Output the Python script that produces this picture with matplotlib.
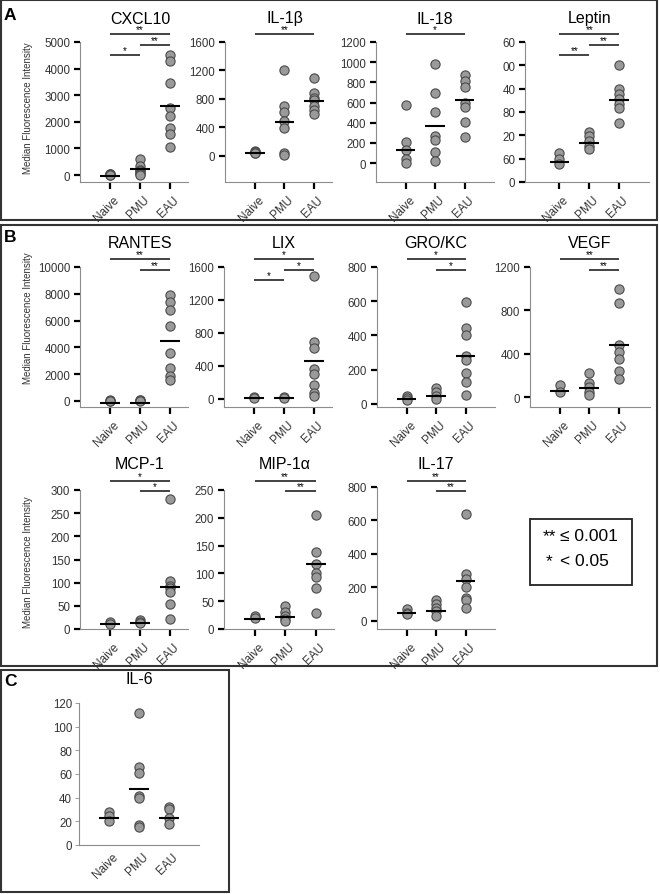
import matplotlib.pyplot as plt
from matplotlib.patches import Rectangle
from matplotlib.transforms import blended_transform_factory, ScaledTranslation

plt.rcParams['font.family'] = ['Liberation Sans', 'DejaVu Sans']

groups = ['Naive', 'PMU', 'EAU']

# values (median fluorescence intensity), per group: Naive, PMU, EAU
cxcl10 = [[50, 30, 20, 10, 0],
          [620, 350, 200, 150, 80, 30, 10],
          [4530, 4280, 3460, 2530, 2220, 1780, 1530, 1050]]
cxcl10_med = [-30, 210, 2600]

il1b = [[75, 60, 50, 45, 40],
        [1209, 698, 614, 498, 391, 47, 9],
        [1088, 879, 820, 791, 707, 650, 591]]
il1b_med = [47, 484, 777]

il18 = [[575, 207, 125, 43, 3],
        [980, 691, 510, 273, 224, 108, 16],
        [872, 816, 750, 595, 553, 405, 263]]
il18_med = [132, 368, 628]

leptin = [[319, 253, 204],
          [557, 513, 457, 401, 371],
          [1304, 1033, 977, 921, 866, 829, 654]]
leptin_med = [227, 431, 910]
leptin_ticks = [0, 260, 520, 780, 1040, 1300, 1560]
leptin_ticklabels = ['0', '60', '20', '80', '40', '00', '60']

rantes = [[50, 30, 10],
          [100, 40, 10],
          [7920, 7400, 6780, 5590, 3560, 2475, 1880, 1530]]
rantes_med = [-124, -124, 4500]

lix = [[20, 10],
       [20, 10],
       [1490, 694, 612, 359, 298, 171, 69, 41]]
lix_med = [8, 8, 461]

grokc = [[45, 35, 25],
         [91, 68, 49, 29],
         [596, 441, 402, 282, 256, 179, 126, 52]]
grokc_med = [31, 49, 282]

vegf = [[108, 46],
        [225, 129, 92, 46, 15],
        [1000, 871, 477, 415, 354, 237, 169]]
vegf_med = [55, 86, 477]

mcp1 = [[16, 11],
        [20, 16, 13],
        [281, 104, 93, 88, 79, 54, 22]]
mcp1_med = [11.5, 13, 90]

mip1a = [[23, 19],
         [42, 30, 24, 18, 15],
         [205, 138, 117, 100, 94, 73, 28]]
mip1a_med = [18, 21, 117]

il17 = [[70, 50, 40],
        [126, 100, 80, 60, 30],
        [640, 280, 250, 200, 140, 124, 76]]
il17_med = [46, 60, 238]

il6 = [[27.5, 24.6, 20.4],
       [111.5, 65.7, 60.9, 41, 39.3, 16.7, 15.3],
       [32.5, 30.3, 23.2, 18.1]]
il6_med = [22.4, 47.3, 23.2]

# significance: (group a, group b, stars, level)
sig3_dd = [(0, 2, '**', 0), (1, 2, '**', 1), (0, 1, '**', 2)]
sig_cxcl10 = [(0, 2, '**', 0), (1, 2, '**', 1), (0, 1, '*', 2)]
sig_lix = [(0, 2, '*', 0), (1, 2, '*', 1), (0, 1, '*', 2)]
sig2_dd = [(0, 2, '**', 0), (1, 2, '**', 1)]
sig2_s = [(0, 2, '*', 0), (1, 2, '*', 1)]

W, H = 660, 895
fig = plt.figure(figsize=(W / 100, H / 100), dpi=100)


def fy(y):
    return 1 - y / H


def panel(box, vals, med, ylim, ticks, title, title_y, xlim=(0, 3.6),
          sigs=(), levels=(), ticklabels=None, plain=False):
    l, t, r, b = box
    ax = fig.add_axes([l / W, fy(b), (r - l) / W, (b - t) / H])
    ax.patch.set_alpha(0)
    xs = [1, 2, 3]
    for i, v in enumerate(vals):
        ax.scatter([xs[i]] * len(v), v, s=44, c='#9a9a9a', edgecolors='#4a4a4a',
                   linewidths=0.8, zorder=3, clip_on=False)
        ax.plot([xs[i] - 0.33, xs[i] + 0.33], [med[i], med[i]], color='black',
                lw=1.5, zorder=4, solid_capstyle='butt', clip_on=False)
    ax.set_xlim(*xlim)
    ax.set_ylim(*ylim)
    ax.set_yticks(ticks)
    if ticklabels:
        ax.set_yticklabels(ticklabels)
    ax.set_xticks(xs)
    ax.set_xticklabels(groups, rotation=45, ha='right', va='top', rotation_mode='anchor')
    for s in ['top', 'right']:
        ax.spines[s].set_visible(False)
    for s in ['left', 'bottom']:
        ax.spines[s].set_color('#8c8c8c')
        ax.spines[s].set_linewidth(0.8)
    if plain:
        ax.tick_params(axis='y', length=3, width=0.6, color='#8c8c8c', labelsize=8.3,
                       pad=2, labelcolor='#333333')
        ax.tick_params(axis='x', length=0, labelsize=8.5, pad=4, labelcolor='#333333')
    else:
        ax.tick_params(axis='y', length=4, width=1.6, color='black', labelsize=8.3,
                       pad=3, labelcolor='#333333')
        ax.tick_params(axis='x', length=5, width=1.6, color='black', labelsize=8.5,
                       pad=3, labelcolor='#333333')
    for lab in ax.get_xticklabels():
        lab.set_transform(lab.get_transform() + ScaledTranslation(3 / 100, 0, fig.dpi_scale_trans))
    bt = blended_transform_factory(ax.transData, fig.transFigure)
    ax.text(2, fy(title_y), title, transform=bt, ha='center', va='center', fontsize=11.5)
    for a, c, stars, lev in sigs:
        yy = fy(levels[lev])
        ax.plot([a + 1, c + 1], [yy, yy], transform=bt, color='#222222', lw=1.2,
                clip_on=False, solid_capstyle='butt')
        ax.text((a + c) / 2 + 1, fy(levels[lev] - 1.5), stars, transform=bt,
                ha='center', va='baseline', fontsize=7)
    return ax


rowA = [35, 46, 56]
rowB1 = [260, 271, 281]
rowB2 = [482, 492]

panel((80, 43, 188, 183), cxcl10, cxcl10_med, (-263, 5000), range(0, 5001, 1000),
      'CXCL10', 19, sigs=sig_cxcl10, levels=rowA)
panel((225, 43, 332, 183), il1b, il1b_med, (-365, 1600), range(0, 1601, 400),
      'IL-1β', 19, sigs=[(0, 2, '**', 0)], levels=rowA)
panel((376, 43, 494, 183), il18, il18_med, (-188, 1200), range(0, 1201, 200),
      'IL-18', 19, xlim=(0, 4.0), sigs=[(0, 2, '*', 0)], levels=rowA)
panel((525, 43, 649, 183), leptin, leptin_med, (0, 1560), leptin_ticks,
      'Leptin', 19, xlim=(-0.15, 4.0), sigs=sig3_dd, levels=rowA,
      ticklabels=leptin_ticklabels)

panel((80, 268, 188, 408), rantes, rantes_med, (-448, 10000), range(0, 10001, 2000),
      'RANTES', 244, sigs=sig2_dd, levels=rowB1)
panel((224, 268, 332, 408), lix, lix_med, (-98, 1600), range(0, 1601, 400),
      'LIX', 244, sigs=sig_lix, levels=rowB1)
panel((377, 268, 495, 408), grokc, grokc_med, (-18, 800), range(0, 801, 200),
      'GRO/KC', 244, xlim=(0, 4.0), sigs=sig2_s, levels=rowB1)
panel((530, 268, 650, 408), vegf, vegf_med, (-92, 1200), range(0, 1201, 400),
      'VEGF', 244, xlim=(0, 4.05), sigs=sig2_dd, levels=rowB1)

panel((80, 491, 188, 630), mcp1, mcp1_med, (0, 300), range(0, 301, 50),
      'MCP-1', 465, sigs=sig2_s, levels=rowB2)
panel((224, 491, 334, 630), mip1a, mip1a_med, (0, 250), range(0, 251, 50),
      'MIP-1α', 465, sigs=sig2_dd, levels=rowB2)
panel((377, 488, 495, 630), il17, il17_med, (-48, 800), range(0, 801, 200),
      'IL-17', 465, xlim=(0, 4.0), sigs=sig2_dd, levels=rowB2)

panel((79, 704, 199, 846), il6, il6_med, (0, 120), range(0, 121, 20),
      'IL-6', 679, xlim=(0, 4.0), plain=True)

# y axis labels
for yc in [108, 318, 562]:
    fig.text(28 / W, fy(yc), 'Median Fluorescence Intensity', rotation=90,
             ha='center', va='center', fontsize=7, color='#333333')

# panel frames and letters
for (x0, y0, x1, y1), letter, ly in [((1, 1, 657, 221), 'A', 15),
                                     ((1, 226, 657, 667), 'B', 238),
                                     ((1, 671, 229, 893), 'C', 681)]:
    fig.add_artist(Rectangle((x0 / W, fy(y1)), (x1 - x0) / W, (y1 - y0) / H,
                             transform=fig.transFigure, fill=False,
                             ec='#333333', lw=1.5))
    fig.text(4 / W, fy(ly), letter, fontsize=12.5, fontweight='bold',
             ha='left', va='center')

# significance key
fig.add_artist(Rectangle((530 / W, fy(586)), 102 / W, 66 / H,
                         transform=fig.transFigure, fill=False, ec='#222222', lw=1.3))
fig.text(549 / W, fy(537), '**', ha='center', va='center', fontsize=12.5)
fig.text(549 / W, fy(562), '*', ha='center', va='center', fontsize=12.5)
fig.text(560 / W, fy(537), '≤ 0.001', ha='left', va='center', fontsize=12.5)
fig.text(560 / W, fy(562), '< 0.05', ha='left', va='center', fontsize=12.5)

fig.savefig('out.png', dpi=100)
